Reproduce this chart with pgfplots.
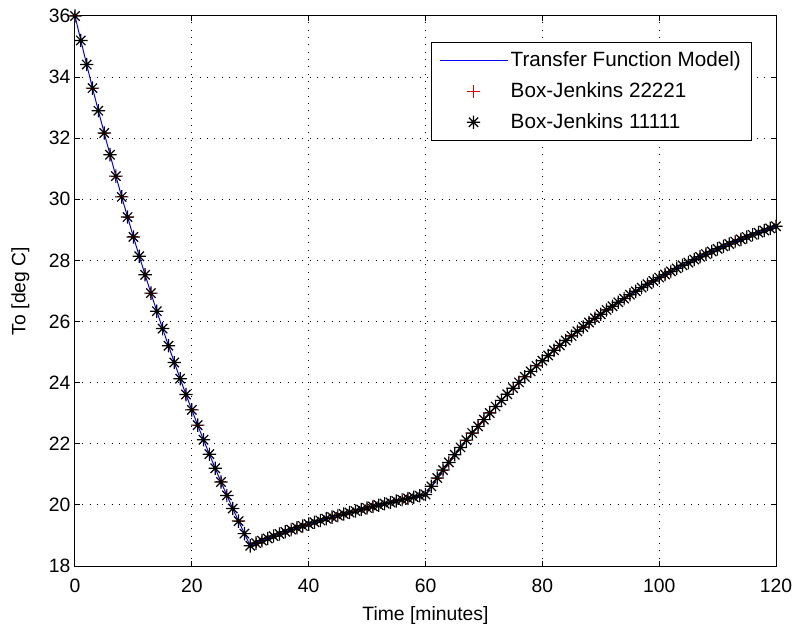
\documentclass[border=0pt]{standalone}
\usepackage{fontspec}
\setmainfont{Liberation Sans}
\usepackage{pgfplots}
\usepackage{pgfplotstable}
\pgfplotsset{compat=1.18}

% MATLAB-like '*' : a plus and a cross on top of each other
\pgfdeclareplotmark{mstar}{%
  \pgfpathmoveto{\pgfqpoint{-\pgfplotmarksize}{0pt}}%
  \pgfpathlineto{\pgfqpoint{\pgfplotmarksize}{0pt}}%
  \pgfpathmoveto{\pgfqpoint{0pt}{-\pgfplotmarksize}}%
  \pgfpathlineto{\pgfqpoint{0pt}{\pgfplotmarksize}}%
  \pgfpathmoveto{\pgfqpoint{-0.7\pgfplotmarksize}{-0.7\pgfplotmarksize}}%
  \pgfpathlineto{\pgfqpoint{0.7\pgfplotmarksize}{0.7\pgfplotmarksize}}%
  \pgfpathmoveto{\pgfqpoint{-0.7\pgfplotmarksize}{0.7\pgfplotmarksize}}%
  \pgfpathlineto{\pgfqpoint{0.7\pgfplotmarksize}{-0.7\pgfplotmarksize}}%
  \pgfusepathqstroke}

% long legend samples, marker in the middle
\pgfplotsset{
  longlegend/.style={
    legend image code/.code={%
      \draw[mark repeat=2, mark phase=2, ##1]
        plot coordinates {(0pt,0pt) (25.5pt,0pt) (51pt,0pt)};}},
}

% outlet temperature, one sample per minute
\pgfplotstableread{
t T
0 36.00
1 35.20
2 34.41
3 33.64
4 32.90
5 32.17
6 31.46
7 30.76
8 30.08
9 29.42
10 28.77
11 28.14
12 27.53
13 26.93
14 26.34
15 25.77
16 25.21
17 24.66
18 24.13
19 23.61
20 23.11
21 22.61
22 22.13
23 21.66
24 21.20
25 20.75
26 20.31
27 19.88
28 19.47
29 19.06
30 18.66
31 18.75
32 18.83
33 18.90
34 18.98
35 19.05
36 19.12
37 19.19
38 19.25
39 19.31
40 19.37
41 19.43
42 19.49
43 19.55
44 19.60
45 19.65
46 19.70
47 19.75
48 19.80
49 19.85
50 19.90
51 19.95
52 19.99
53 20.04
54 20.08
55 20.13
56 20.17
57 20.21
58 20.25
59 20.30
60 20.34
61 20.61
62 20.88
63 21.14
64 21.39
65 21.64
66 21.88
67 22.12
68 22.35
69 22.57
70 22.79
71 23.01
72 23.22
73 23.42
74 23.62
75 23.82
76 24.01
77 24.19
78 24.37
79 24.55
80 24.72
81 24.89
82 25.06
83 25.22
84 25.38
85 25.53
86 25.68
87 25.82
88 25.97
89 26.11
90 26.24
91 26.38
92 26.50
93 26.63
94 26.75
95 26.88
96 26.99
97 27.11
98 27.22
99 27.33
100 27.44
101 27.54
102 27.64
103 27.74
104 27.84
105 27.93
106 28.03
107 28.12
108 28.21
109 28.29
110 28.38
111 28.46
112 28.54
113 28.62
114 28.69
115 28.77
116 28.84
117 28.91
118 28.98
119 29.05
120 29.12
}\tempdata

\begin{document}
\begin{tikzpicture}
\begin{axis}[
  scale only axis,
  width=525.75pt, height=412.5pt,
  xmin=0, xmax=120, ymin=18, ymax=36,
  xtick={0,20,...,120}, ytick={18,20,...,36},
  font=\fontsize{14.5}{17}\selectfont,
  /pgf/number format/assume math mode=true,
  tick align=inside, major tick length=4pt,
  axis line style={line width=0.75pt},
  every tick/.style={black, line width=0.75pt},
  grid=major,
  major grid style={black, line width=0.75pt, dash pattern=on 0.75pt off 4.75pt},
  xticklabel style={anchor=base, yshift=-20pt},
  xlabel={Time [minutes]},
  ylabel={To [deg C]},
  xlabel style={at={(axis description cs:0.5,0)}, anchor=base, yshift=-40.5pt},
  ylabel style={at={(axis description cs:-0.078,0.5)}, anchor=center},
  longlegend,
  legend cell align=left,
  legend style={at={(rel axis cs:1,1)}, anchor=north east,
    xshift=-18pt, yshift=-19.5pt, line width=0.75pt,
    inner xsep=6pt, inner ysep=5pt, row sep=6.5pt,
    font=\fontsize{15.5}{17}\selectfont},
]
\addplot[blue, line width=0.75pt] table[x=t, y=T] {\tempdata};
\addlegendentry{Transfer Function Model)}
\addplot[only marks, red, mark=+, mark size=3.8pt, line width=0.75pt,
  legend image code/.code={%
    \draw[red!90!black, line width=1.1pt] (20.5pt,0pt) -- (30.5pt,0pt);
    \draw[red!90!black, line width=1.1pt] (25.5pt,-5pt) -- (25.5pt,5pt);}]
  table[x=t, y=T] {\tempdata};
\addlegendentry{Box-Jenkins 22221}
\addplot[only marks, black, mark=mstar, mark size=5pt, line width=0.9pt] table[x=t, y=T] {\tempdata};
\addlegendentry{Box-Jenkins 11111}
\end{axis}
\pgfresetboundingbox
\path[use as bounding box] ([xshift=-56.25pt, yshift=-47.25pt]current axis.south west)
  rectangle ([xshift=12pt, yshift=12pt]current axis.north east);
\end{tikzpicture}
\end{document}
